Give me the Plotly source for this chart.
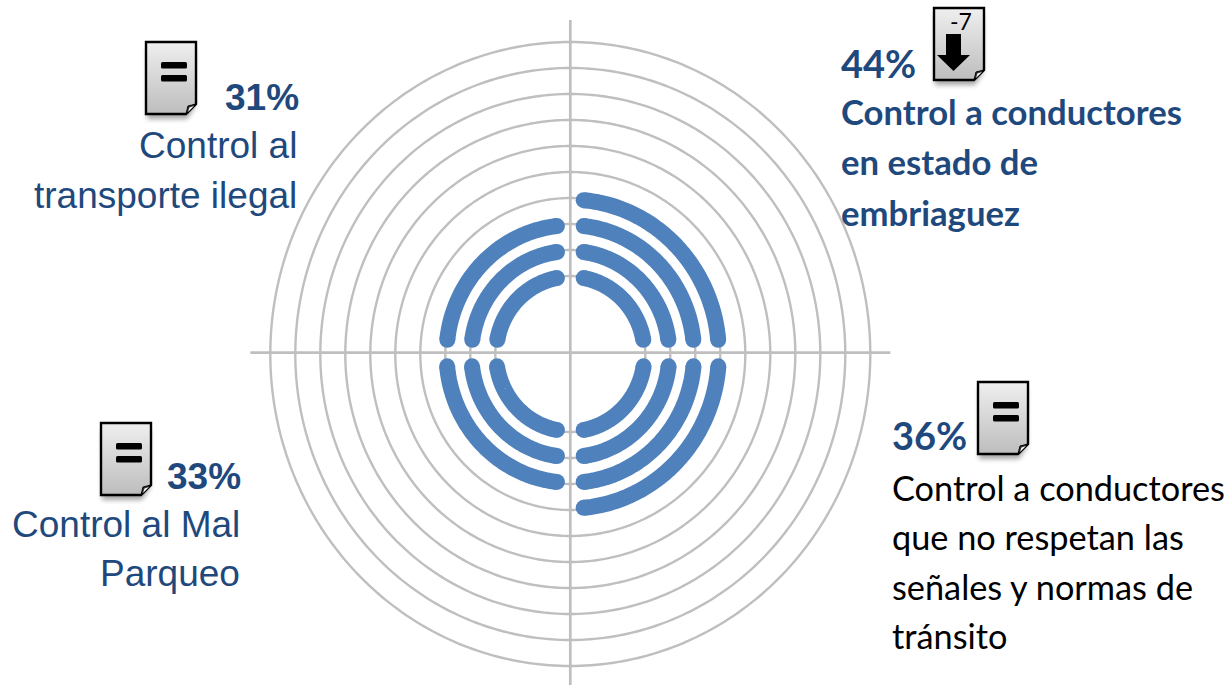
import base64

import numpy as np
import plotly.graph_objects as go

# rings that carry a blue arc in each quadrant (clockwise from top right)
q1_rings = [3, 4, 5, 6]
q2_rings = [3, 4, 5]
q3_rings = [3, 4, 5]
q4_rings = [3, 4, 5, 6]
grid_rings = [3, 4, 5, 6, 7, 8, 9, 10, 11, 12]

BLUE = "#4F81BD"
GREY = "#BFBFBF"
NAVY = "#1F497D"
W, H = 1229, 686
CX, CY = 570.3, 354.0  # chart centre in pixels
SX, SY = 25.0, 26.0    # pixels per ring
GAP_X = 0.54
GAP_TOP, GAP_BOTTOM = 0.55, 0.48
ARC_SCALE = 0.99       # arcs sit just inside their grey ring


def arc(ring, quadrant):
    """Arc of one ring inside a quadrant, angle measured clockwise from top."""
    gap_y = GAP_TOP if quadrant in (1, 2) else GAP_BOTTOM
    a0 = np.arcsin(GAP_X / ring)
    a1 = np.arccos(gap_y / ring)
    t = np.linspace(a0, a1, 80)
    sx = 1 if quadrant in (1, 4) else -1
    sy = 1 if quadrant in (1, 2) else -1
    return sx * ARC_SCALE * ring * np.sin(t), sy * ARC_SCALE * ring * np.cos(t)


def icon_svg(kind):
    body = "M1,1 H51 V63 L41,73 H1 Z"
    if kind == "equal":
        mark = ('<rect x="16" y="21" width="26" height="6.5" rx="1.5" fill="#000"/>'
                '<rect x="16" y="34" width="26" height="6.5" rx="1.5" fill="#000"/>')
    else:
        mark = '<path d="M13,27 H28 V48 H37 L20.5,64 L4,48 H13 Z" fill="#000"/>'
    svg = (
        '<svg xmlns="http://www.w3.org/2000/svg" width="64" height="88" viewBox="-6 -2 64 88">'
        '<defs><linearGradient id="g" x1="0" y1="0" x2="0" y2="1">'
        '<stop offset="0" stop-color="#EFEFEF"/><stop offset="1" stop-color="#BDBDBD"/>'
        '</linearGradient><filter id="b" x="-30%" y="-30%" width="160%" height="160%">'
        '<feGaussianBlur stdDeviation="2.5"/></filter></defs>'
        '<path d="M2,8 H50 V66 L42,78 H2 Z" fill="#000" opacity="0.35" filter="url(#b)"/>'
        f'<path d="{body}" fill="url(#g)" stroke="#000" stroke-width="2.4"/>'
        '<path d="M41,73 L43,65 L51,63 Z" fill="#333" stroke="#000" stroke-width="1"/>'
        '<path d="M43,71 L44.5,66.5 L49,65 Z" fill="#fff"/>'
        f'{mark}</svg>'
    )
    return "data:image/svg+xml;base64," + base64.b64encode(svg.encode()).decode()


def px_x(v):
    return v / W


def px_y(v):
    return 1 - v / H


fig = go.Figure()

# grey rings, then the two cross lines
for ring in grid_rings:
    t = np.linspace(0, 2 * np.pi, 361)
    fig.add_trace(go.Scatter(x=ring * np.sin(t), y=ring * np.cos(t), mode="lines",
                             line=dict(color=GREY, width=2.4, simplify=False), hoverinfo="skip"))
fig.add_trace(go.Scatter(x=[-12.8, 12.8], y=[0.05, 0.05], mode="lines",
                         line=dict(color=GREY, width=2.7), hoverinfo="skip"))
fig.add_trace(go.Scatter(x=[0, 0], y=[12.85, -12.73], mode="lines",
                         line=dict(color=GREY, width=2.7), hoverinfo="skip"))

# blue arcs with a round end made by a marker on each end
for quadrant, rings in zip((1, 2, 3, 4), (q1_rings, q2_rings, q3_rings, q4_rings)):
    for ring in rings:
        x, y = arc(ring, quadrant)
        fig.add_trace(go.Scatter(
            x=x, y=y, mode="lines+markers",
            line=dict(color=BLUE, width=16, simplify=False),
            marker=dict(color=BLUE, opacity=1, size=[16] + [0] * (len(x) - 2) + [16],
                        line=dict(width=0)),
            hoverinfo="skip",
        ))

ARIAL = "Liberation Sans"
CALIBRI = "Lato"

# text, pixel x, pixel y, anchor, font, size, colour, bold
texts = [
    ("31%", 300, 97, "right", ARIAL, 37, NAVY, True),
    ("Control al", 298, 145, "right", ARIAL, 37, NAVY, False),
    ("transporte ilegal", 298, 195, "right", ARIAL, 37, NAVY, False),
    ("44%", 840, 63, "left", CALIBRI, 38, NAVY, True),
    ("Control a conductores", 840, 112, "left", CALIBRI, 34.7, NAVY, True),
    ("en estado de", 840, 161, "left", CALIBRI, 34.7, NAVY, True),
    ("embriaguez", 840, 212, "left", CALIBRI, 34.7, NAVY, True),
    ("-7", 961, 21, "center", CALIBRI, 23, "#000000", False),
    ("36%", 891, 435, "left", CALIBRI, 38, NAVY, True),
    ("Control a conductores", 891, 487, "left", CALIBRI, 34.3, "#000000", False),
    ("que no respetan las", 891, 536, "left", CALIBRI, 34.3, "#000000", False),
    ("señales y normas de", 891, 586, "left", CALIBRI, 34.3, "#000000", False),
    ("tránsito", 891, 635, "left", CALIBRI, 34.3, "#000000", False),
    ("33%", 242, 476, "right", ARIAL, 37, NAVY, True),
    ("Control al Mal", 241, 524, "right", ARIAL, 37, NAVY, False),
    ("Parqueo", 241, 573, "right", ARIAL, 37, NAVY, False),
]
for text, x, y, anchor, family, size, color, bold in texts:
    fig.add_annotation(
        x=px_x(x), y=px_y(y), xref="paper", yref="paper", showarrow=False,
        text=f"<b>{text}</b>" if bold else text,
        xanchor=anchor, yanchor="middle", align=anchor,
        font=dict(family=family, size=size, color=color),
        borderpad=0,
    )

# document icons: kind, pixel left, pixel top
icons = [("equal", 145, 41), ("arrow", 933, 7), ("equal", 977, 381), ("equal", 100, 422)]
images = []
for kind, left, top in icons:
    images.append(dict(
        source=icon_svg(kind), xref="paper", yref="paper",
        x=px_x(left - 6), y=px_y(top - 2),
        sizex=64 / W, sizey=88 / H, sizing="stretch",
        xanchor="left", yanchor="top", layer="above",
    ))

fig.update_layout(
    width=W, height=H,
    margin=dict(l=0, r=0, t=0, b=0),
    paper_bgcolor="#FFFFFF",
    plot_bgcolor="#FFFFFF",
    showlegend=False,
    images=images,
    xaxis=dict(range=[-CX / SX, (W - CX) / SX], visible=False, fixedrange=True),
    yaxis=dict(range=[-(H - CY) / SY, CY / SY], visible=False, fixedrange=True),
)

fig.write_html("out.html", post_script="document.body.style.margin='0';",
               config={"displayModeBar": False})
